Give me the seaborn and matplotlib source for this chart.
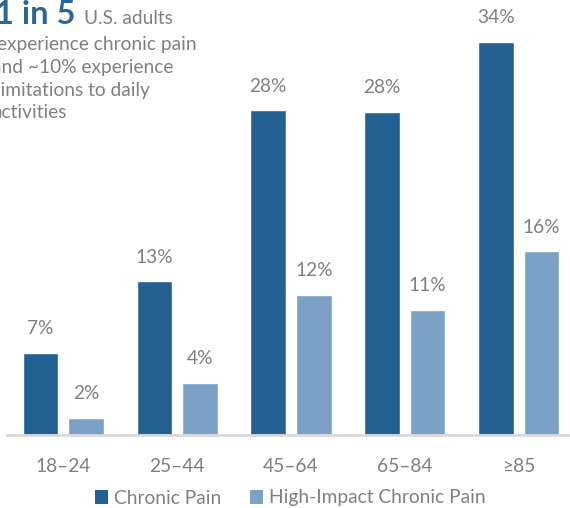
import matplotlib
matplotlib.use("Agg")
import matplotlib.pyplot as plt
import seaborn as sns
import pandas as pd
from matplotlib.patches import Patch

categories = ["18–24", "25–44", "45–64", "65–84", "≥85"]
chronic = [7.1, 13.3, 28.1, 28.0, 34.0]
high_impact = [1.5, 4.5, 12.1, 10.8, 15.9]
chronic_labels = ["7%", "13%", "28%", "28%", "34%"]
high_labels = ["2%", "4%", "12%", "11%", "16%"]
series = ["Chronic Pain", "High-Impact Chronic Pain"]

DARK = "#236192"
LIGHT = "#7ba1c7"
GRAY = "#808080"
TITLE_BLUE = "#2a6699"
FS = 13.8

sns.set_theme(style="white")
plt.rcParams["font.family"] = ["Lato", "DejaVu Sans"]

df = pd.DataFrame({
    "age": categories * 2,
    "value": chronic + high_impact,
    "series": [series[0]] * 5 + [series[1]] * 5,
    "label": chronic_labels + high_labels,
})

W, H = 570, 508
fig = plt.figure(figsize=(W / 100, H / 100), dpi=100)
ax = fig.add_axes([7 / W, (H - 435) / H, (W - 7) / W, 435 / H])

sns.barplot(data=df, x="age", y="value", hue="series", order=categories,
            hue_order=series, palette=[DARK, LIGHT], gap=0.22, width=0.8,
            ax=ax, legend=False, saturation=1)

ax.set_xlim(-0.496, 4.452)
ax.set_ylim(0, 37.66)
for s in ["top", "right", "left"]:
    ax.spines[s].set_visible(False)
ax.spines["bottom"].set_color("#d9d9d9")
ax.spines["bottom"].set_linewidth(2)
ax.set_yticks([])
ax.set_xlabel("")
ax.set_ylabel("")
ax.tick_params(axis="x", length=0, pad=16.5, labelsize=FS, labelcolor=GRAY)

for container, labels in zip(ax.containers, [chronic_labels, high_labels]):
    for bar, lab in zip(container, labels):
        ax.annotate(lab, (bar.get_x() + bar.get_width() / 2, bar.get_height()),
                    xytext=(0, 17.5), textcoords="offset points",
                    ha="center", va="center", fontsize=FS, color=GRAY)

handles = [Patch(facecolor=DARK, edgecolor="none"), Patch(facecolor=LIGHT, edgecolor="none")]
fig.legend(handles, series, loc="center", bbox_to_anchor=(290 / W, 1 - 498 / H),
           ncol=2, frameon=False, fontsize=FS, labelcolor=GRAY,
           handlelength=0.7, handleheight=0.7, handletextpad=0.3, columnspacing=1.5,
           borderpad=0, borderaxespad=0)

# annotation block, positioned in pixels
def px(x, y):
    return x / W, 1 - y / H

fig.text(*px(-5, 24), "1 in 5", fontsize=23.5, fontweight="bold", color=TITLE_BLUE,
         va="baseline", ha="left")
fig.text(*px(84, 24), "U.S. adults", fontsize=FS, color=GRAY, va="baseline", ha="left")
lines = [("experience chronic pain", -3, 50), ("and ~10% experience", -8, 73),
         ("limitations to daily", -4, 96), ("activities", -8, 118)]
for t, x, y in lines:
    fig.text(*px(x, y), t, fontsize=FS, color=GRAY, va="baseline", ha="left")

fig.savefig("out.png", dpi=100)
